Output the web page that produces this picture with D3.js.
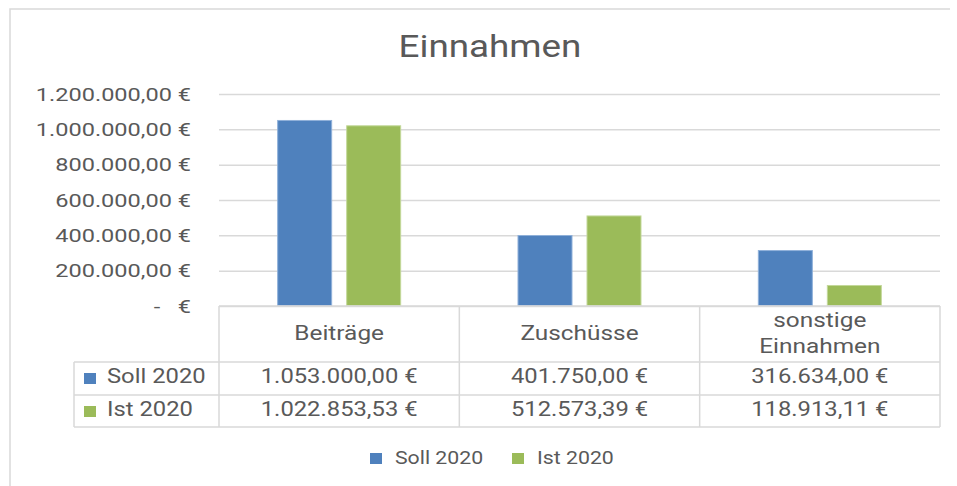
<!DOCTYPE html>
<html>
<head>
<meta charset="utf-8">
<title>Einnahmen</title>
<script src="https://cdn.jsdelivr.net/npm/d3@7"></script>
<style>
    html, body {
        margin: 0;
        padding: 0;
        background: #fff;
    }
    svg {
        display: block;
        font-family: Roboto, "Noto Sans", sans-serif;
    }
</style>
</head>
<body>
<script>
// Kategorien und Werte
const categories = ['Beiträge', 'Zuschüsse', 'sonstige Einnahmen'];
const seriesNames = ['Soll 2020', 'Ist 2020'];
const soll2020 = [1053000.00, 401750.00, 316634.00];
const ist2020 = [1022853.53, 512573.39, 118913.11];
const yTicks = [0, 200000, 400000, 600000, 800000, 1000000, 1200000];

const colors = ['#4f81bd', '#9bbb59'];
const strokes = ['#8fb0d9', '#c3d89a'];
const textColor = '#595959';
const lineColor = '#d9d9d9';

// svg区域大小
const width = 957;
const height = 486;
const plot = {
    left: 219,
    right: 940,
    top: 94,
    bottom: 306
};
// Tabelle unter dem Diagramm
const table = {
    left: 74,
    header: 362,
    row1: 395,
    row2: 427
};
// Schrift wird wie im Original breiter gezogen
const stretchK = 1.22;

const deLocale = d3.formatLocale({
    decimal: ',',
    thousands: '.',
    grouping: [3],
    currency: ['', ' €']
});
const fmtNum = deLocale.format(',.2f');
const fmtEuro = d => d === 0 ? '-\u00a0\u00a0\u00a0€' : fmtNum(d) + ' €';

const svg = d3.select('body')
    .append('svg')
    .attr('width', width)
    .attr('height', height);

// Rahmen (nur oben und links sichtbar)
svg.append('path')
    .attr('d', `M10,${height} L10,9 L950,9`)
    .attr('fill', 'none')
    .attr('stroke', lineColor)
    .attr('stroke-width', 1.5);

// Skalen
const x0 = d3.scaleBand()
    .domain(categories)
    .range([plot.left, plot.right]);
const x1 = d3.scaleBand()
    .domain(seriesNames)
    .range([0, x0.bandwidth()])
    .paddingInner(0.203)
    .paddingOuter(0.843);
const y = d3.scaleLinear()
    .domain([0, 1200000])
    .range([plot.bottom, plot.top]);

/**
 * Text horizontal strecken, Ankerpunkt bleibt
 *
 * @param {Object} sel Textauswahl
 * @param {number} k Faktor
 */
function stretch(sel, k) {
    sel.attr('transform', function () {
        const tx = +this.getAttribute('x') || 0;
        return `translate(${tx * (1 - k)},0) scale(${k},1)`;
    });
}

// Titel
svg.append('text')
    .attr('x', 490)
    .attr('y', 57)
    .attr('text-anchor', 'middle')
    .attr('fill', textColor)
    .attr('font-size', '32px')
    .text('Einnahmen')
    .call(stretch, 1.15);

// y-Achse mit Gitterlinien
const yAxis = svg.append('g')
    .attr('transform', `translate(${plot.left},0)`)
    .call(d3.axisLeft(y)
        .tickValues(yTicks)
        .tickSizeInner(-(plot.right - plot.left))
        .tickSizeOuter(0)
        .tickPadding(28)
        .tickFormat(fmtEuro));
yAxis.select('.domain').remove();
yAxis.selectAll('.tick line')
    .attr('stroke', lineColor)
    .attr('stroke-width', 1.5);
yAxis.selectAll('.tick text')
    .attr('fill', textColor)
    .attr('font-size', '19px')
    .attr('font-family', 'Roboto, sans-serif')
    .style('white-space', 'pre')
    .call(stretch, 1.24);

// Balken
const seriesData = [soll2020, ist2020];
seriesData.forEach((values, s) => {
    svg.append('g')
        .selectAll('rect')
        .data(values)
        .enter()
        .append('rect')
        .attr('x', (d, i) => x0(categories[i]) + x1(seriesNames[s]) + 0.5)
        .attr('y', d => y(d) + 0.5)
        .attr('width', x1.bandwidth() - 1)
        .attr('height', d => y(0) - y(d) - 1)
        .attr('fill', colors[s])
        .attr('stroke', strokes[s])
        .attr('stroke-width', 1);
});

// Datentabelle: Linien
const grid = svg.append('g')
    .attr('fill', 'none')
    .attr('stroke', lineColor)
    .attr('stroke-width', 1.5);
grid.append('path')
    .attr('d', `M${plot.left},${plot.bottom} L${plot.right},${plot.bottom}`);
[table.header, table.row1, table.row2].forEach(ry => {
    grid.append('path')
        .attr('d', `M${table.left},${ry} L${plot.right},${ry}`);
});
grid.append('path')
    .attr('d', `M${table.left},${table.header} L${table.left},${table.row2}`);
categories.forEach(c => {
    grid.append('path')
        .attr('d', `M${x0(c)},${plot.bottom} L${x0(c)},${table.row2}`);
});
grid.append('path')
    .attr('d', `M${plot.right},${plot.bottom} L${plot.right},${table.row2}`);

// Datentabelle: Kopfzeile
const head = svg.append('g')
    .attr('fill', textColor)
    .attr('font-size', '20px')
    .attr('text-anchor', 'middle');
categories.forEach(c => {
    const words = c.split(' ');
    const cx = x0(c) + x0.bandwidth() / 2;
    words.forEach((w, i) => {
        const by = words.length > 1 ? 327 + i * 26 : 340;
        head.append('text')
            .attr('x', cx)
            .attr('y', by)
            .text(w)
            .call(stretch, stretchK);
    });
});

// Datentabelle: Werte
const rowBase = [383, 416];
seriesData.forEach((values, s) => {
    const row = svg.append('g')
        .attr('fill', textColor)
        .attr('font-size', '19.5px');
    row.append('rect')
        .attr('x', 84)
        .attr('y', rowBase[s] - 10)
        .attr('width', 12)
        .attr('height', 11)
        .attr('fill', colors[s]);
    row.append('text')
        .attr('x', 107)
        .attr('y', rowBase[s])
        .text(seriesNames[s])
        .call(stretch, stretchK);
    row.selectAll('text.val')
        .data(values)
        .enter()
        .append('text')
        .attr('class', 'val')
        .attr('text-anchor', 'middle')
        .attr('x', (d, i) => x0(categories[i]) + x0.bandwidth() / 2)
        .attr('y', rowBase[s])
        .text(d => fmtEuro(d))
        .call(stretch, stretchK);
});

// Legende unten
const legendX = [370, 512];
const legend = svg.append('g')
    .attr('fill', textColor)
    .attr('font-size', '19px');
seriesNames.forEach((name, s) => {
    legend.append('rect')
        .attr('x', legendX[s])
        .attr('y', 453)
        .attr('width', 12)
        .attr('height', 11)
        .attr('fill', colors[s]);
    legend.append('text')
        .attr('x', legendX[s] + 25)
        .attr('y', 464)
        .text(name)
        .call(stretch, 1.12);
});
</script>
</body>
</html>
